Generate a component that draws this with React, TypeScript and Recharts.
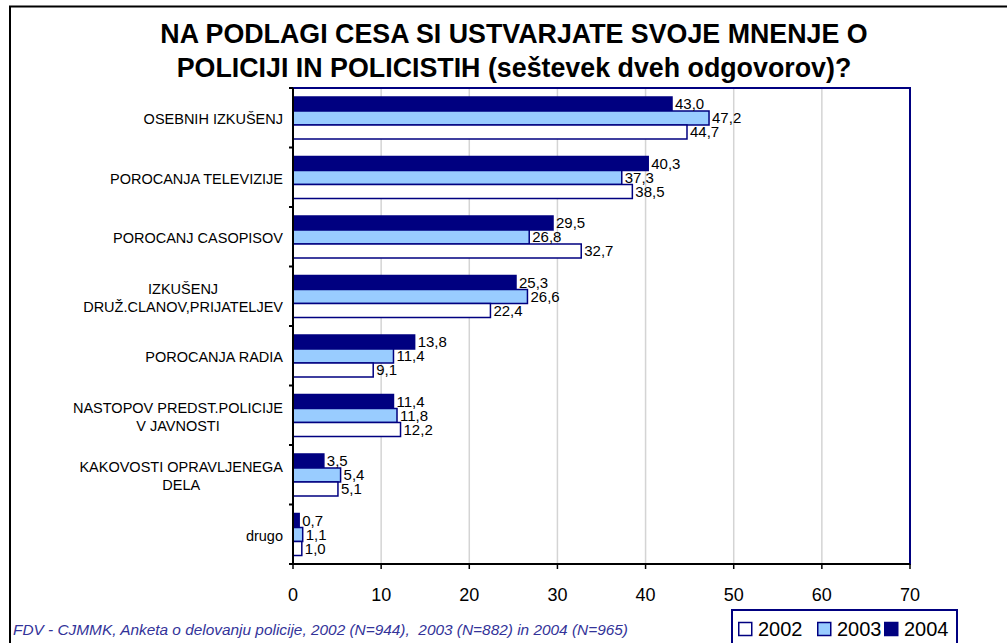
import React from 'react';
import { BarChart, Bar, XAxis, YAxis, CartesianGrid, LabelList, ReferenceArea } from 'recharts';

const categories: string[] = [
  'OSEBNIH IZKUŠENJ',
  'POROCANJA TELEVIZIJE',
  'POROCANJ CASOPISOV',
  'IZKUŠENJ\nDRUŽ.CLANOV,PRIJATELJEV',
  'POROCANJA RADIA',
  'NASTOPOV PREDST.POLICIJE\nV JAVNOSTI',
  'KAKOVOSTI OPRAVLJENEGA\nDELA',
  'drugo',
];
const values2002: number[] = [44.7, 38.5, 32.7, 22.4, 9.1, 12.2, 5.1, 1.0];
const values2003: number[] = [47.2, 37.3, 26.8, 26.6, 11.4, 11.8, 5.4, 1.1];
const values2004: number[] = [43.0, 40.3, 29.5, 25.3, 13.8, 11.4, 3.5, 0.7];
const xTicks: number[] = [0, 10, 20, 30, 40, 50, 60, 70];
const seriesNames: string[] = ['2002', '2003', '2004'];

const titleLines: string[] = [
  'NA PODLAGI CESA SI USTVARJATE SVOJE MNENJE O',
  'POLICIJI IN POLICISTIH (seštevek dveh odgovorov)?',
];
const footnote = 'FDV - CJMMK, Anketa o delovanju policije, 2002 (N=944),  2003 (N=882) in 2004 (N=965)';

const data = categories.map((name, i) => ({
  name,
  y2002: values2002[i],
  y2003: values2003[i],
  y2004: values2004[i],
}));

const W = 1007;
const H = 643;
const FONT = "'Liberation Sans', Arial, sans-serif";
const NAVY = '#000080';
const LIGHT = '#99ccff';
const MARGIN = { top: 88, right: 97, bottom: 39, left: 13 };
const XAXIS_H = 40;
const PLOT_H = H - MARGIN.top - MARGIN.bottom - XAXIS_H;
const BAND = PLOT_H / categories.length;

let measureCtx: CanvasRenderingContext2D | null = null;
function measure(text: string, font: string): number {
  if (!measureCtx) {
    const c = document.createElement('canvas');
    measureCtx = c.getContext('2d');
  }
  if (!measureCtx) return text.length * 8;
  measureCtx.font = font;
  return measureCtx.measureText(text).width;
}

const fmt = (v: any) => (typeof v === 'number' ? v.toFixed(1).replace('.', ',') : v);

const CategoryTick = (props: any) => {
  const { x, y, payload, index } = props;
  const lines: string[] = String(payload.value).split('\n');
  const fs = 14.5;
  const widths = lines.map((l) => measure(l, `${fs}px ${FONT}`));
  const maxW = Math.max(...widths);
  const cx = x - maxW / 2;
  const n = lines.length;
  const spacing = 18;
  const axisX = x + 10;
  return (
    <g>
      {lines.map((l, i) => {
        const center = y + 1.5 + (i - (n - 1) / 2) * spacing;
        return (
          <text key={i} x={n === 1 ? x : cx} y={center + 5} textAnchor={n === 1 ? 'end' : 'middle'}
            fontSize={fs} fontFamily={FONT} fill="#000">
            {l}
          </text>
        );
      })}
      <line x1={axisX - 4} x2={axisX} y1={y - BAND / 2} y2={y - BAND / 2} stroke="#000" strokeWidth={2} />
      {index === categories.length - 1 && (
        <line x1={axisX - 4} x2={axisX} y1={y + BAND / 2} y2={y + BAND / 2} stroke="#000" strokeWidth={2} />
      )}
    </g>
  );
};

const legendFills = ['#ffffff', LIGHT, NAVY];
const legendX = [738, 817, 884];

export default function App() {
  return (
    <div style={{ position: 'absolute', left: 0, top: 0, width: W, height: H, background: '#fff' }}>
      <div style={{ position: 'absolute', left: 0, top: 0 }}>
        <BarChart
          width={W}
          height={H}
          data={data}
          layout="vertical"
          margin={MARGIN}
          barCategoryGap="15%"
          barGap={0}
        >
          <CartesianGrid horizontal={false} vertical={true} stroke="#d4d4d4" strokeWidth={1.5} />
          <ReferenceArea x1={0} x2={70} fill="none" fillOpacity={0} stroke={NAVY} strokeWidth={2} ifOverflow="visible" />
          <XAxis
            type="number"
            domain={[0, 70]}
            ticks={xTicks}
            interval={0}
            height={XAXIS_H}
            axisLine={{ stroke: '#000', strokeWidth: 2 }}
            tickLine={{ stroke: '#000', strokeWidth: 1.5 }}
            tickSize={5}
            tickMargin={19}
            tick={{ fontSize: 18, fill: '#000', fontFamily: FONT }}
          />
          <YAxis
            type="category"
            dataKey="name"
            width={280}
            interval={0}
            tickLine={false}
            tickSize={4}
            tickMargin={6}
            axisLine={{ stroke: '#000', strokeWidth: 2 }}
            tick={<CategoryTick />}
          />
          <Bar dataKey="y2004" name={seriesNames[2]} fill={NAVY} stroke={NAVY} strokeWidth={1.5} isAnimationActive={false}>
            <LabelList dataKey="y2004" position="right" offset={3} formatter={fmt} fontSize={15} fill="#000" fontFamily={FONT} />
          </Bar>
          <Bar dataKey="y2003" name={seriesNames[1]} fill={LIGHT} stroke={NAVY} strokeWidth={1.5} isAnimationActive={false}>
            <LabelList dataKey="y2003" position="right" offset={3} formatter={fmt} fontSize={15} fill="#000" fontFamily={FONT} />
          </Bar>
          <Bar dataKey="y2002" name={seriesNames[0]} fill="#ffffff" stroke={NAVY} strokeWidth={1.5} isAnimationActive={false}>
            <LabelList dataKey="y2002" position="right" offset={3} formatter={fmt} fontSize={15} fill="#000" fontFamily={FONT} />
          </Bar>
        </BarChart>
      </div>
      <svg width={W} height={H} style={{ position: 'absolute', left: 0, top: 0, pointerEvents: 'none' }}>
        <rect x={10} y={6.5} width={1200} height={1000} fill="none" stroke="#000" strokeWidth={2} />
        {titleLines.map((t, i) => (
          <text key={i} x={514} y={43 + i * 34} textAnchor="middle" fontSize={26.8} fontWeight="bold" fontFamily={FONT} fill="#000">
            {t}
          </text>
        ))}
        <text x={13} y={635} fontSize={15.4} fontStyle="italic" fontFamily={FONT} fill="#333399" style={{ whiteSpace: 'pre' }}>
          {footnote}
        </text>
        <rect x={732} y={610} width={225} height={45} fill="#fff" stroke={NAVY} strokeWidth={2} />
        {seriesNames.map((s, i) => (
          <g key={s}>
            <rect x={legendX[i] + 0.75} y={622.5} width={13} height={13} fill={legendFills[i]} stroke={NAVY} strokeWidth={1.5} />
            <text x={legendX[i] + 20} y={636} fontSize={20} fontFamily={FONT} fill="#000">{s}</text>
          </g>
        ))}
      </svg>
    </div>
  );
}
